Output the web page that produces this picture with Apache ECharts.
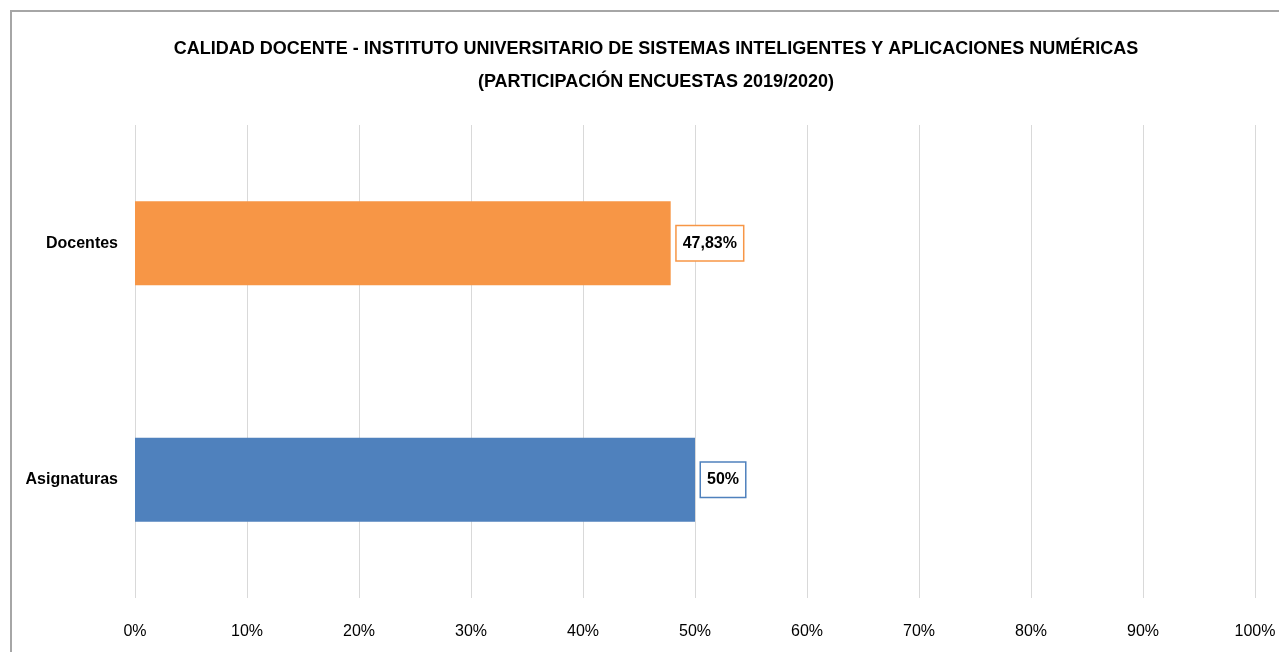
<!DOCTYPE html>
<html>
<head>
<meta charset="utf-8">
<script src="https://cdn.jsdelivr.net/npm/echarts@6/dist/echarts.min.js"></script>
<style>
  html, body { margin: 0; padding: 0; background: #fff; }
  #chart { width: 1279px; height: 652px; }
</style>
</head>
<body>
<div id="chart"></div>
<script>
var categories = ["Asignaturas", "Docentes"];
var values = [50, 47.83];
var labels = ["50%", "47,83%"];
var colors = ["#4F81BD", "#F79646"];
var ticks = [0, 10, 20, 30, 40, 50, 60, 70, 80, 90, 100];

var font = "'Liberation Sans Narrow', 'Liberation Sans', Arial, sans-serif";

var chart = echarts.init(document.getElementById("chart"));

var data = values.map(function (v, i) {
  return {
    value: v,
    itemStyle: { color: colors[i] },
    label: {
      formatter: labels[i],
      borderColor: colors[i]
    }
  };
});

var option = {
  animation: false,
  backgroundColor: "#fff",
  graphic: [
    {
      type: "rect",
      shape: { x: 11, y: 11, width: 1300, height: 700 },
      style: { fill: "none", stroke: "#a6a6a6", lineWidth: 2 },
      silent: true
    }
  ],
  title: {
    text: "CALIDAD DOCENTE - INSTITUTO UNIVERSITARIO DE SISTEMAS INTELIGENTES Y APLICACIONES NUMÉRICAS\n(PARTICIPACIÓN ENCUESTAS 2019/2020)",
    left: 651,
    top: 28,
    textAlign: "center",
    textStyle: {
      fontFamily: font,
      fontSize: 18,
      fontWeight: "bold",
      color: "#000",
      lineHeight: 33
    }
  },
  grid: {
    left: 135,
    right: 24,
    top: 125,
    bottom: 54,
    containLabel: false
  },
  xAxis: {
    type: "value",
    min: 0,
    max: 100,
    interval: 10,
    axisLine: { show: false },
    axisTick: { show: false },
    splitLine: { show: true, lineStyle: { color: "#d9d9d9", width: 1 } },
    axisLabel: {
      margin: 26,
      fontFamily: font,
      fontSize: 16,
      color: "#000",
      formatter: function (v) { return ticks.indexOf(v) >= 0 ? v + "%" : ""; }
    }
  },
  yAxis: {
    type: "category",
    data: categories,
    axisLine: { show: false },
    axisTick: { show: false },
    axisLabel: {
      margin: 17,
      fontFamily: font,
      fontSize: 16,
      fontWeight: "bold",
      color: "#000"
    }
  },
  series: [
    {
      type: "bar",
      data: data,
      barWidth: "35.5%",
      label: {
        show: true,
        position: "right",
        distance: 6,
        fontFamily: font,
        fontSize: 16,
        fontWeight: "bold",
        color: "#000",
        backgroundColor: "#fff",
        borderWidth: 1.5,
        padding: [10, 6, 8, 6]
      }
    }
  ]
};

chart.setOption(option);
</script>
</body>
</html>
